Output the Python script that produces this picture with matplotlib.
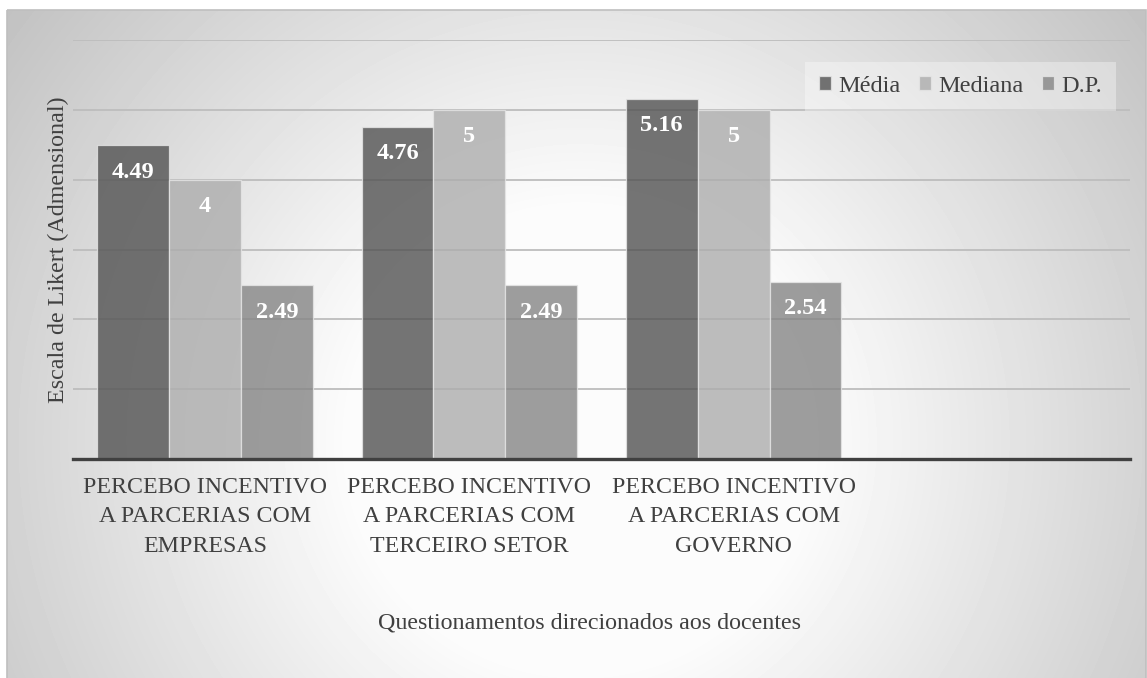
import numpy as np
import matplotlib
matplotlib.use("Agg")
import matplotlib.pyplot as plt
from matplotlib.patches import Rectangle

plt.rcParams['font.family'] = ['Liberation Serif', 'DejaVu Serif']

# --- dados ---
categorias = [
    "PERCEBO INCENTIVO\nA PARCERIAS COM\nEMPRESAS",
    "PERCEBO INCENTIVO\nA PARCERIAS COM\nTERCEIRO SETOR",
    "PERCEBO INCENTIVO\nA PARCERIAS COM\nGOVERNO",
]
media = [4.49, 4.76, 5.16]
mediana = [4, 5, 5]
dp = [2.49, 2.49, 2.54]
series = ["Média", "Mediana", "D.P."]
cores = ["#525252", "#adadad", "#858585"]

W, H = 1147, 678
fig = plt.figure(figsize=(W / 100, H / 100), dpi=100)

# fundo com degradê radial (claro no centro, cinza nas bordas)
bg = fig.add_axes([0, 0, 1, 1])
bg.set_xlim(0, W)
bg.set_ylim(H, 0)
bg.axis("off")
xx, yy = np.meshgrid(np.arange(7, 1146), np.arange(10, H))
r = np.hypot(xx - 580, yy - 440)
val = np.clip(252 - 0.12 * np.clip(r - 230, 0, None), 192, 252) / 255.0
bg.imshow(val, cmap="gray", vmin=0, vmax=1, extent=[7, 1146, H, 10],
          interpolation="bilinear", aspect="auto", zorder=0)
bg.add_patch(Rectangle((7, 10), 1139, H, fill=False, ec="#bfbfbf", lw=1.2, zorder=1))

# área do gráfico
ax = fig.add_axes([73 / W, 1 - 459 / H, (1130 - 73) / W, (459 - 40) / H])
ax.set_facecolor("none")
x = np.arange(len(categorias))
w = 0.272
for i, (vals, nome, cor) in enumerate(zip([media, mediana, dp], series, cores)):
    pos = x + (i - 1) * w
    ax.bar(pos, vals, width=w, color=cor, alpha=0.8, edgecolor="#e6e6e6",
           linewidth=0.9, label=nome, zorder=2)
    for xp, v in zip(pos, vals):
        ax.annotate(f"{v:g}", (xp, v), xytext=(0, -19.5), textcoords="offset points",
                    ha="center", va="center", color="white", fontweight="bold",
                    fontsize=17.5, zorder=3)

ax.set_xlim(-0.5, 3.5)
ax.set_ylim(0, 6)
ax.set_yticks(np.arange(1, 7))
ax.yaxis.grid(True, color="#bdbdbd", linewidth=1.3, zorder=1)
ax.set_axisbelow(True)
ax.tick_params(axis="y", left=False, labelleft=False)
ax.set_xticks(x)
ax.set_xticklabels(categorias, fontsize=17.2, color="#404040", linespacing=1.52)
ax.tick_params(axis="x", length=0, pad=13)
for s in ["left", "right", "top"]:
    ax.spines[s].set_visible(False)
ax.spines["bottom"].set_color("#404040")
ax.spines["bottom"].set_linewidth(2.4)
ax.spines["bottom"].set_zorder(4)

leg = ax.legend(loc="upper right", bbox_to_anchor=(1116 / W, 1 - 62 / H),
                bbox_transform=fig.transFigure, ncol=3, fontsize=17.5,
                frameon=True, handlelength=0.5, handleheight=0.5,
                handletextpad=0.3, columnspacing=0.75, borderpad=0.57,
                borderaxespad=0, fancybox=False)
leg.get_frame().set_facecolor("white")
leg.get_frame().set_alpha(0.35)
leg.get_frame().set_edgecolor("none")
for t in leg.get_texts():
    t.set_color("#404040")

fig.text(58 / W, 1 - 250 / H, "Escala de Likert (Admensional)", rotation=90,
         ha="center", va="center", fontsize=17.3, color="#404040")
fig.text(589 / W, 1 - 623 / H, "Questionamentos direcionados aos docentes",
         ha="center", va="center", fontsize=17.3, color="#404040")

fig.savefig("out.png", dpi=100)
